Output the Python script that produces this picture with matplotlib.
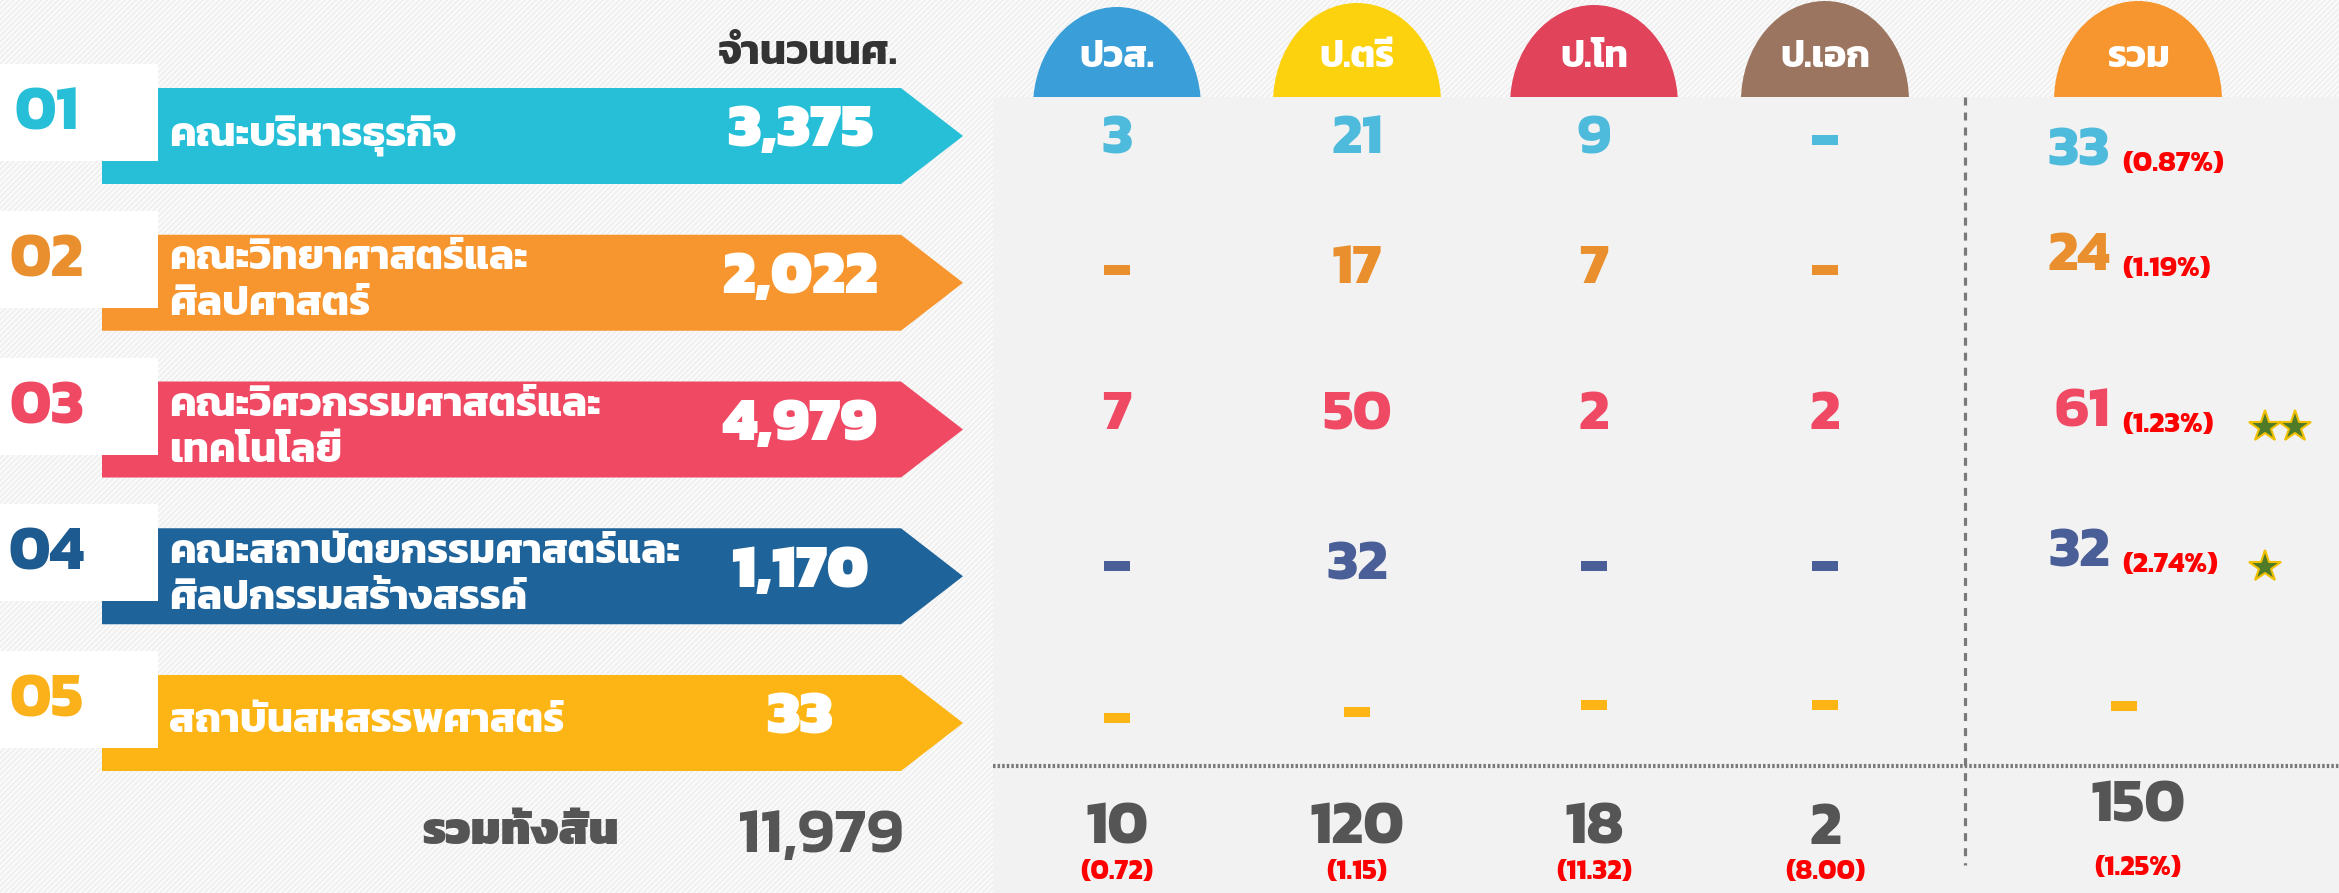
import matplotlib
matplotlib.use('Agg')
import matplotlib.pyplot as plt
from matplotlib import font_manager
from matplotlib.patches import Rectangle, Ellipse, Polygon
from fontTools.ttLib import TTFont

# ---- data ----
codes = ['01', '02', '03', '04', '05']
faculties = ['คณะบริหารธุรกิจ',
             'คณะวิทยาศาสตร์และ\nศิลปศาสตร์',
             'คณะวิศวกรรมศาสตร์และ\nเทคโนโลยี',
             'คณะสถาปัตยกรรมศาสตร์และ\nศิลปกรรมสร้างสรรค์',
             'สถาบันสหสรรพศาสตร์']
students = ['3,375', '2,022', '4,979', '1,170', '33']
levels = ['ปวส.', 'ป.ตรี', 'ป.โท', 'ป.เอก']
counts = [['3', '21', '9', '-'],
          ['-', '17', '7', '-'],
          ['7', '50', '2', '2'],
          ['-', '32', '-', '-'],
          ['-', '-', '-', '-']]
row_total = ['33', '24', '61', '32', '-']
row_pct = ['(0.87%)', '(1.19%)', '(1.23%)', '(2.74%)', '']
stars = [0, 0, 2, 1, 0]
level_total = ['10', '120', '18', '2']
level_ratio = ['(0.72)', '(1.15)', '(11.32)', '(8.00)']
grand_total = '150'
grand_pct = '(1.25%)'
all_students = '11,979'

banner_colors = ['#26bfd7', '#f7962e', '#ef4964', '#1e6399', '#fdb515']
code_colors = ['#26bfd7', '#ea8f2e', '#ef4964', '#1d5a8f', '#fbb11a']
value_colors = ['#4fbbdc', '#ea8f2e', '#ef4964', '#4a5f98', '#fdb515']
head_colors = ['#3a9fd8', '#fcd20f', '#e0435a', '#9b7560']
total_head_color = '#f7962e'


# ---- find a font that has Thai letters ----
def find_thai_font():
    found = []
    for f in font_manager.fontManager.ttflist:
        try:
            tt = TTFont(f.fname, fontNumber=0, lazy=True)
            cmap = tt.getBestCmap()
        except Exception:
            continue
        if cmap and 0x0E04 in cmap and f.name not in found:
            found.append(f.name)
    for name in ['Kanit', 'Prompt', 'Noto Sans Thai', 'Noto Sans Thai UI',
                 'Noto Sans Thai Looped', 'Loma', 'Garuda', 'Waree', 'Sarabun']:
        if name in found:
            return name
    return found[0] if found else 'DejaVu Sans'


thai = find_thai_font()
plt.rcParams['font.family'] = [thai, 'DejaVu Sans']

W, H = 2339, 893
fig = plt.figure(figsize=(W / 100, H / 100), dpi=100)
ax = fig.add_axes([0, 0, 1, 1])
ax.set_xlim(0, W)
ax.set_ylim(H, 0)
ax.axis('off')

# background with diagonal stripes
plt.rcParams['hatch.linewidth'] = 1.3
ax.add_patch(Rectangle((0, 0), W, H, facecolor='#f0f0f0', edgecolor='#fcfcfc',
                       hatch='//////', lw=0, zorder=0))

# header ellipses (bottom half hidden by the panel)
col_x = [1117, 1357, 1594, 1825]
tot_x = 2138
head_top = [7, 3, 5, 1]
for i, lv in enumerate(levels):
    ax.add_patch(Ellipse((col_x[i], head_top[i] + 100), 168, 200,
                         facecolor=head_colors[i], lw=0, zorder=1))
    ax.text(col_x[i], 58, lv, color='white', fontsize=27, fontweight='bold',
            ha='center', va='center', zorder=4)
ax.add_patch(Ellipse((tot_x, 1 + 100), 168, 200, facecolor=total_head_color,
                     lw=0, zorder=1))
ax.text(tot_x, 58, 'รวม', color='white', fontsize=27, fontweight='bold',
        ha='center', va='center', zorder=4)

# right panel
ax.add_patch(Rectangle((993, 97), W - 993, H - 97, facecolor='#f2f2f2',
                       lw=0, zorder=2))
ax.plot([1965, 1965], [97, 865], color='#7a7a7a', lw=2.3,
        ls=(0, (2.5, 2.2)), zorder=3)
ax.plot([993, W], [766, 766], color='#7a7a7a', lw=3,
        ls=(0, (0.6, 0.5)), zorder=3)

# left header
ax.text(808, 55, 'จำนวนนศ.', color='#333333', fontsize=30, fontweight='bold',
        ha='center', va='center', zorder=4)

val_y = [140, 270, 416, 566, 712]
tot_y = [152, 257, 413, 553, 706]
dash_y5 = [718, 712, 705, 705]


def dash(x, y, color):
    ax.add_patch(Rectangle((x - 13, y - 5), 26, 10, facecolor=color, lw=0,
                           zorder=4))


for i in range(len(codes)):
    top = 88 + i * 146.75
    mid = top + 48
    # banner arrow
    ax.add_patch(Polygon([(102, top), (901, top), (963, mid), (901, top + 96),
                          (102, top + 96)], closed=True,
                         facecolor=banner_colors[i], lw=0, zorder=1))
    # white code box
    ax.add_patch(Rectangle((0, top - 24), 158, 97, facecolor='white', lw=0,
                           zorder=2))
    ax.text(47, top + 27, codes[i], color=code_colors[i], fontsize=45,
            fontweight='bold', ha='center', va='center', zorder=4)
    lines = faculties[i].split('\n')
    for k, line in enumerate(lines):
        yy = mid + (k - (len(lines) - 1) / 2) * 46
        ax.text(169, yy, line, color='white', fontsize=30, fontweight='bold',
                ha='left', va='center', zorder=4)
    ax.text(800, mid - 4, students[i], color='white', fontsize=44,
            fontweight=900, ha='center', va='center', zorder=4)

    # table values
    for j in range(len(levels)):
        v = counts[i][j]
        yy = dash_y5[j] if i == 4 else val_y[i]
        if v == '-':
            dash(col_x[j], yy, value_colors[i])
        else:
            ax.text(col_x[j], yy, v, color=value_colors[i], fontsize=42,
                    fontweight='bold', ha='center', va='center', zorder=4)
    if row_total[i] == '-':
        dash(tot_x - 14, tot_y[i], value_colors[i])
    else:
        ax.text(2110, tot_y[i], row_total[i], color=value_colors[i],
                fontsize=42, fontweight='bold', ha='right', va='center',
                zorder=4)
        ax.text(2122, tot_y[i] + 12, row_pct[i], color='#ff0000', fontsize=21,
                fontweight='bold', ha='left', va='center', zorder=4)
    for s in range(stars[i]):
        ax.plot(2265 + s * 30, tot_y[i] + 14, marker='*', ms=24,
                color='#4f7a28', mec='#f0c000', mew=1.5, zorder=5)

# totals row
ax.text(521, 833, 'รวมทั้งสิ้น', color='#555555', fontsize=33,
        fontweight=900, ha='center', va='center', zorder=4)
ax.text(821, 837, all_students, color='#555555', fontsize=46,
        fontweight=600, ha='center', va='center', zorder=4)
for j in range(len(levels)):
    ax.text(col_x[j], 830, level_total[j], color='#555555', fontsize=44,
            fontweight='bold', ha='center', va='center', zorder=4)
    ax.text(col_x[j], 872, level_ratio[j], color='#ff0000', fontsize=20,
            fontweight='bold', ha='center', va='center', zorder=4)
ax.text(tot_x, 808, grand_total, color='#555555', fontsize=44,
        fontweight='bold', ha='center', va='center', zorder=4)
ax.text(tot_x, 868, grand_pct, color='#ff0000', fontsize=20,
        fontweight='bold', ha='center', va='center', zorder=4)

fig.savefig('out.png', dpi=100)
